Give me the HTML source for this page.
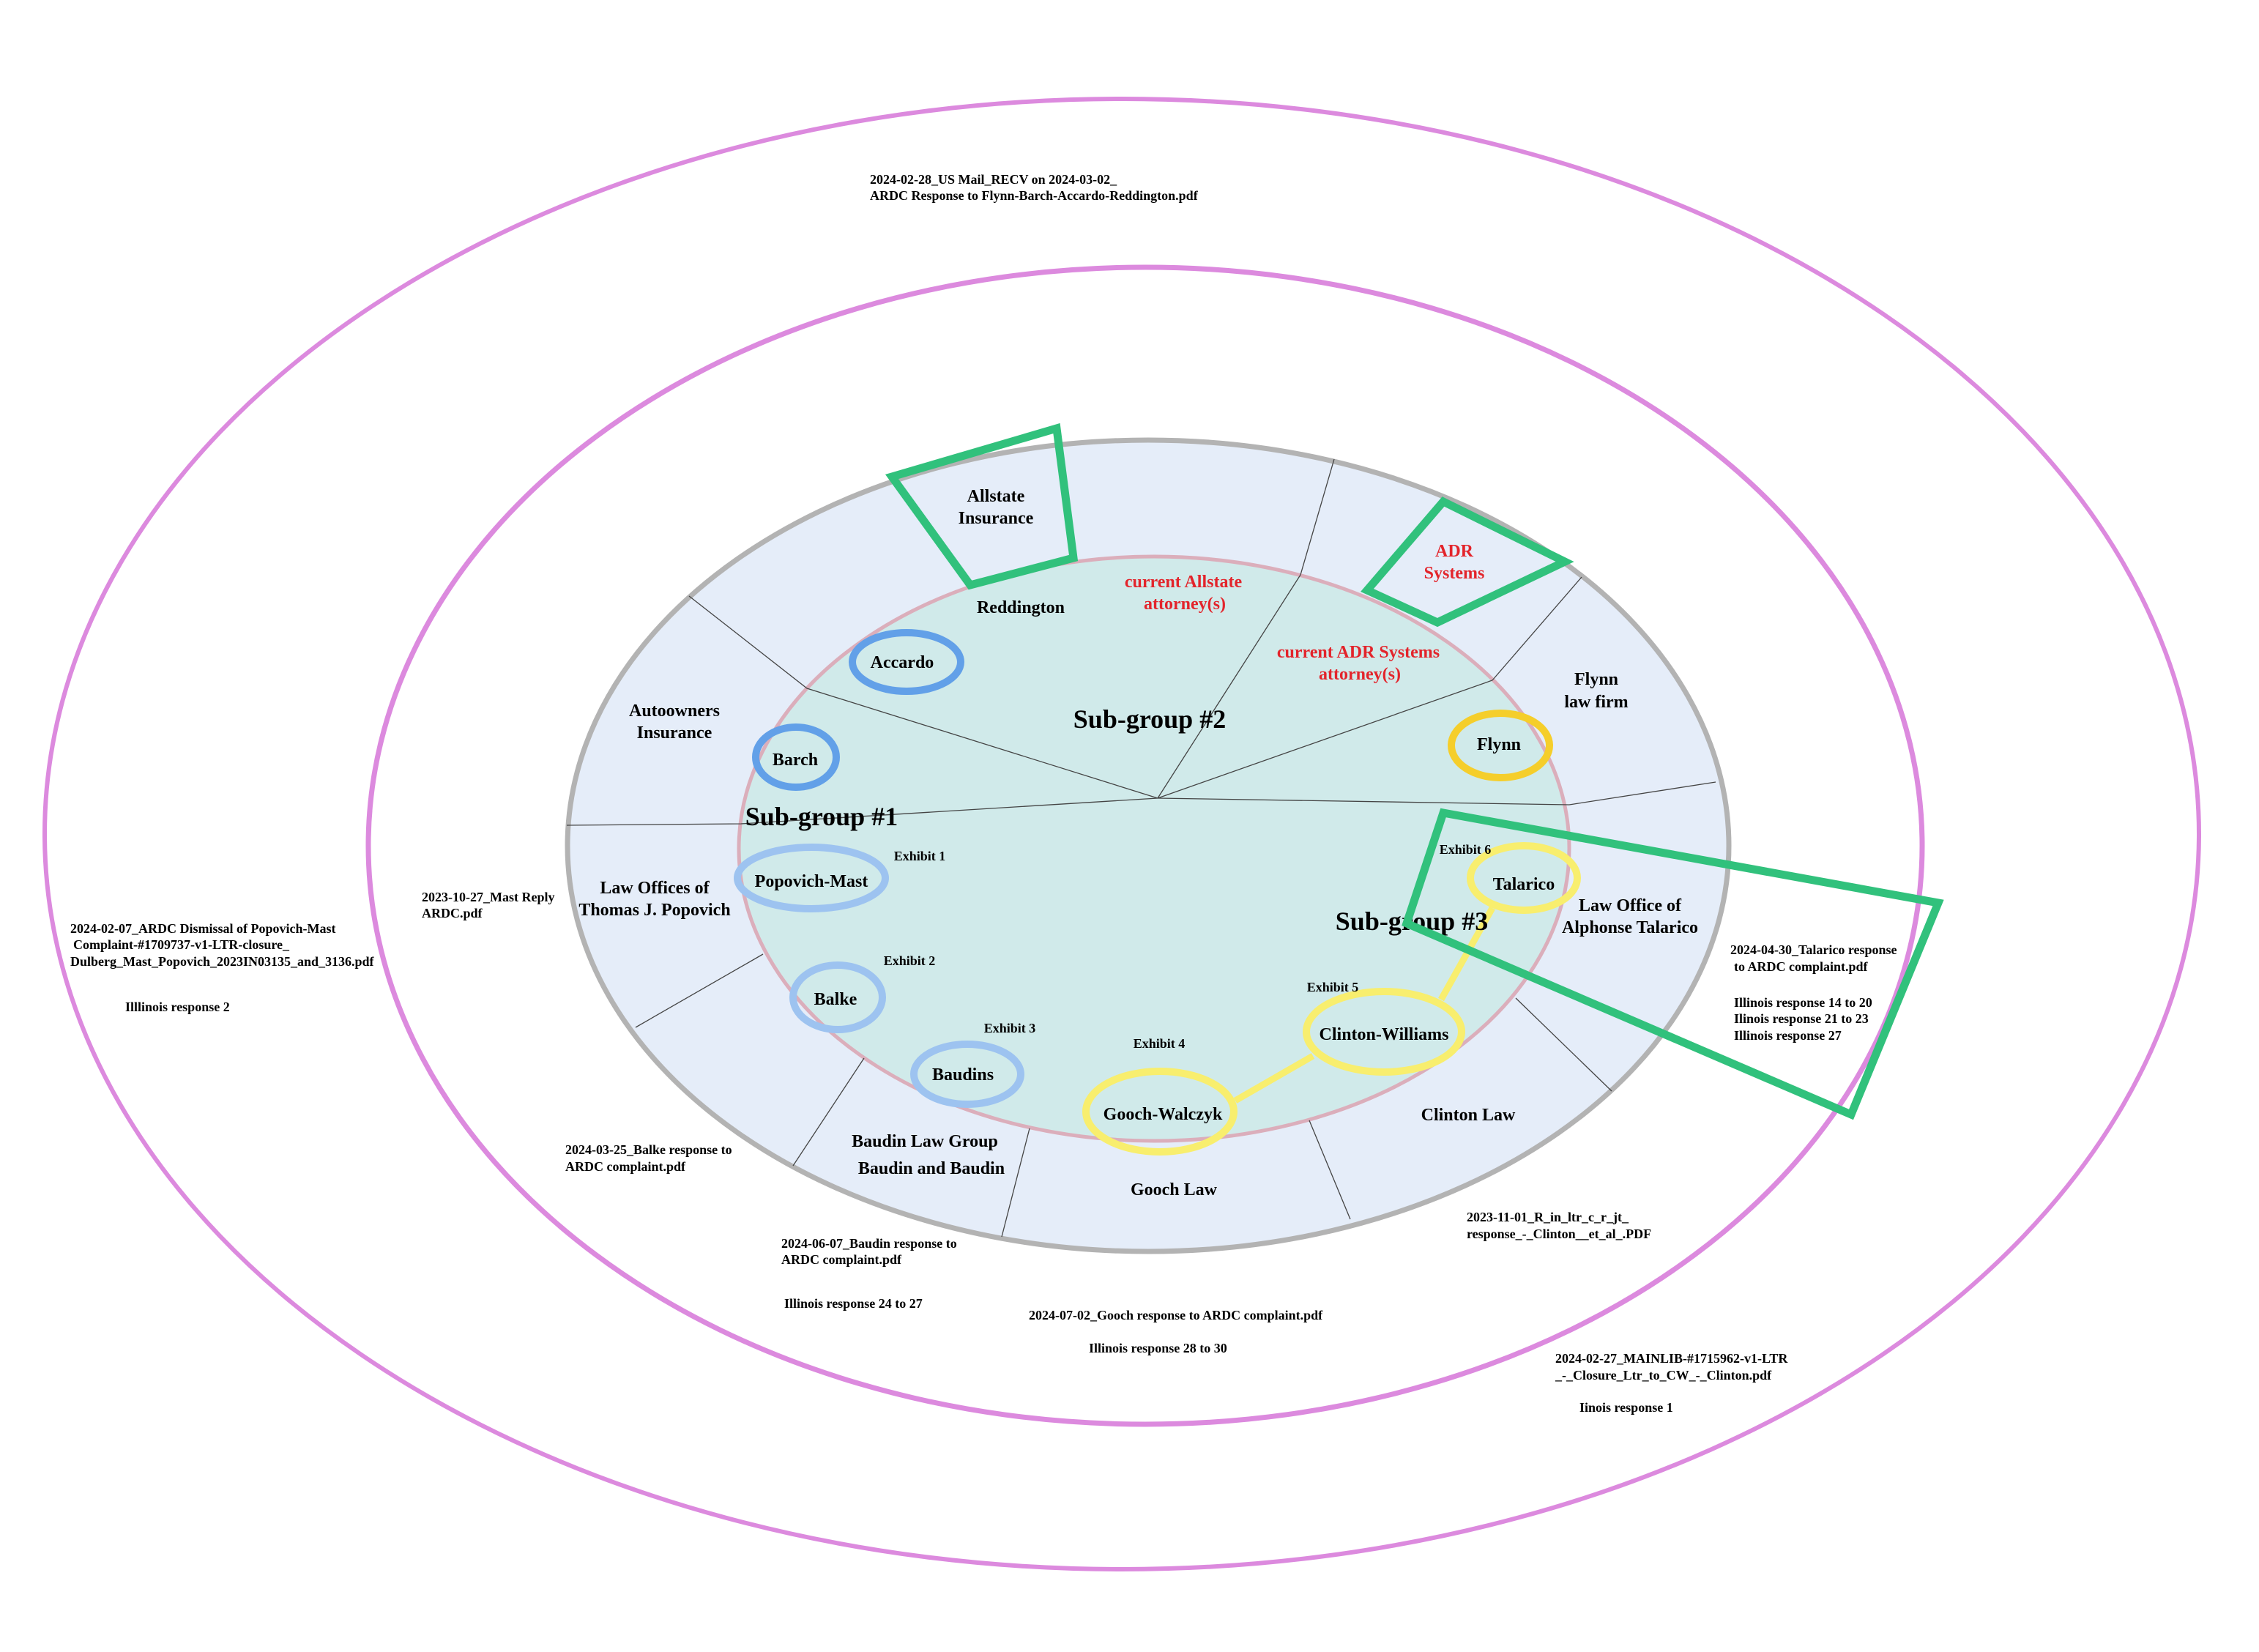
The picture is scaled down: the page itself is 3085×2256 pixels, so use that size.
<!DOCTYPE html>
<html>
<head>
<meta charset="utf-8">
<style>
  html, body { margin:0; padding:0; background:#ffffff; }
  svg { display:block; }
  text { font-family: "Liberation Serif", "DejaVu Serif", serif; font-weight: bold; fill:#000; }
  .n24 { font-size:24px; text-anchor:middle; }
  .r24 { font-size:24px; text-anchor:middle; fill:#e3242b; }
  .s36 { font-size:36px; text-anchor:middle; }
  .e18 { font-size:18px; text-anchor:middle; }
  .f18 { font-size:18px; }
</style>
</head>
<body>
<svg width="3085" height="2256" viewBox="0 0 3085 2256" xmlns="http://www.w3.org/2000/svg">
  <rect x="0" y="0" width="3085" height="2256" fill="#ffffff"/>

  <!-- outer purple ellipses -->
  <ellipse cx="1532" cy="1139" rx="1471" ry="1004" fill="none" stroke="#dc8ade" stroke-width="6"/>
  <ellipse cx="1564" cy="1155" rx="1061" ry="790" fill="none" stroke="#dc8ade" stroke-width="7"/>

  <!-- gray ring -->
  <ellipse cx="1568" cy="1155" rx="793" ry="554" fill="#e5edf9" stroke="#b3b3b3" stroke-width="7"/>
  <!-- inner pink -->
  <ellipse cx="1576" cy="1159" rx="567" ry="399" fill="#d0eaea" stroke="#dbaebb" stroke-width="5"/>

  <!-- divider lines -->
  <g fill="none" stroke="#444" stroke-width="1.3">
    <polyline points="1581,1090 1102,940 941,814"/>
    <polyline points="1581,1090 1012,1125 774,1127"/>
    <polyline points="1581,1090 1776,785 1822,627"/>
    <polyline points="1581,1090 2038,929 2160,788"/>
    <polyline points="1581,1090 2143,1099 2343,1068"/>
    <line x1="1042" y1="1303" x2="868" y2="1403"/>
    <line x1="1180" y1="1445" x2="1083" y2="1592"/>
    <line x1="1406" y1="1541" x2="1368" y2="1689"/>
    <line x1="1788" y1="1530" x2="1844" y2="1665"/>
    <line x1="2070" y1="1363" x2="2201" y2="1490"/>
  </g>

  <!-- yellow connectors -->
  <g stroke="#f8ee6e" stroke-width="9" fill="none">
    <line x1="1687" y1="1503" x2="1793" y2="1442"/>
    <line x1="1968" y1="1365" x2="2038" y2="1240"/>
  </g>

  <!-- node ellipses -->
  <g fill="none" stroke-width="10">
    <ellipse cx="1238" cy="904" rx="74" ry="40" stroke="#62a0e8"/>
    <ellipse cx="1087" cy="1034" rx="55" ry="41" stroke="#62a0e8"/>
    <ellipse cx="1108" cy="1199" rx="101" ry="42" stroke="#9dc3f0"/>
    <ellipse cx="1144" cy="1362" rx="61" ry="44" stroke="#9dc3f0"/>
    <ellipse cx="1321" cy="1467" rx="73" ry="41" stroke="#9dc3f0"/>
    <ellipse cx="1584" cy="1518" rx="101" ry="55" stroke="#f8ee6e"/>
    <ellipse cx="1890" cy="1409" rx="106" ry="55" stroke="#f8ee6e"/>
    <ellipse cx="2081" cy="1199" rx="73" ry="44" stroke="#f8ee6e"/>
    <ellipse cx="2049" cy="1018" rx="67" ry="44" stroke="#f5ce2b"/>
  </g>

  <!-- ring labels -->
  <text class="n24" x="1360" y="685">Allstate</text>
  <text class="n24" x="1360" y="715">Insurance</text>
  <text class="n24" x="1394" y="837">Reddington</text>
  <text class="n24" x="921" y="978">Autoowners</text>
  <text class="n24" x="921" y="1008">Insurance</text>
  <text class="n24" x="894" y="1220">Law Offices of</text>
  <text class="n24" x="894" y="1250">Thomas J. Popovich</text>
  <text class="n24" x="2180" y="935">Flynn</text>
  <text class="n24" x="2180" y="966">law firm</text>
  <text class="n24" x="2226" y="1244">Law Office of</text>
  <text class="n24" x="2226" y="1274">Alphonse Talarico</text>
  <text class="n24" x="1263" y="1566">Baudin Law Group</text>
  <text class="n24" x="1272" y="1603">Baudin and Baudin</text>
  <text class="n24" x="1603" y="1632">Gooch Law</text>
  <text class="n24" x="2005" y="1530">Clinton Law</text>

  <!-- red labels -->
  <text class="r24" x="1986" y="760">ADR</text>
  <text class="r24" x="1986" y="790">Systems</text>
  <text class="r24" x="1616" y="802">current Allstate</text>
  <text class="r24" x="1618" y="832">attorney(s)</text>
  <text class="r24" x="1855" y="898">current ADR Systems</text>
  <text class="r24" x="1857" y="928">attorney(s)</text>

  <!-- node labels -->
  <text class="n24" x="1232" y="912">Accardo</text>
  <text class="n24" x="1086" y="1045">Barch</text>
  <text class="n24" x="1108" y="1211">Popovich-Mast</text>
  <text class="n24" x="1141" y="1372">Balke</text>
  <text class="n24" x="1315" y="1475">Baudins</text>
  <text class="n24" x="1588" y="1529">Gooch-Walczyk</text>
  <text class="n24" x="1890" y="1420">Clinton-Williams</text>
  <text class="n24" x="2081" y="1215">Talarico</text>
  <text class="n24" x="2047" y="1024">Flynn</text>

  <!-- exhibit labels -->
  <text class="e18" x="1256" y="1175">Exhibit 1</text>
  <text class="e18" x="1242" y="1318">Exhibit 2</text>
  <text class="e18" x="1379" y="1410">Exhibit 3</text>
  <text class="e18" x="1583" y="1431">Exhibit 4</text>
  <text class="e18" x="1820" y="1354">Exhibit 5</text>
  <text class="e18" x="2001" y="1166">Exhibit 6</text>

  <!-- sub-group labels -->
  <text class="s36" x="1122" y="1127">Sub-group #1</text>
  <text class="s36" x="1570" y="994">Sub-group #2</text>
  <text class="s36" x="1928" y="1270">Sub-group #3</text>

  <!-- green highlight boxes -->
  <g fill="none" stroke="#31c17c" stroke-width="11" stroke-linejoin="miter">
    <polygon points="1218,651 1443,585 1466,762 1325,799"/>
    <polygon points="1971,685 2137,767 1963,850 1867,806"/>
    <polygon points="1971,1110 2647,1233 2528,1522 1921,1261"/>
  </g>

  <!-- file labels -->
  <text class="f18" x="1188" y="251">2024-02-28_US Mail_RECV on 2024-03-02_</text>
  <text class="f18" x="1188" y="273">ARDC Response to Flynn-Barch-Accardo-Reddington.pdf</text>

  <text class="f18" x="96" y="1274">2024-02-07_ARDC Dismissal of Popovich-Mast</text>
  <text class="f18" x="100" y="1296">Complaint-#1709737-v1-LTR-closure_</text>
  <text class="f18" x="96" y="1319">Dulberg_Mast_Popovich_2023IN03135_and_3136.pdf</text>
  <text class="f18" x="171" y="1381">Illlinois response 2</text>

  <text class="f18" x="576" y="1231">2023-10-27_Mast Reply</text>
  <text class="f18" x="576" y="1253">ARDC.pdf</text>

  <text class="f18" x="772" y="1576">2024-03-25_Balke response to</text>
  <text class="f18" x="772" y="1599">ARDC complaint.pdf</text>

  <text class="f18" x="1067" y="1704">2024-06-07_Baudin response to</text>
  <text class="f18" x="1067" y="1726">ARDC complaint.pdf</text>
  <text class="f18" x="1071" y="1786">Illinois response 24 to 27</text>

  <text class="f18" x="1405" y="1802">2024-07-02_Gooch response to ARDC complaint.pdf</text>
  <text class="f18" x="1487" y="1847">Illinois response 28 to 30</text>

  <text class="f18" x="2003" y="1668">2023-11-01_R_in_ltr_c_r_jt_</text>
  <text class="f18" x="2003" y="1691">response_-_Clinton__et_al_.PDF</text>

  <text class="f18" x="2124" y="1861">2024-02-27_MAINLIB-#1715962-v1-LTR</text>
  <text class="f18" x="2124" y="1884">_-_Closure_Ltr_to_CW_-_Clinton.pdf</text>
  <text class="f18" x="2157" y="1928">Iinois response 1</text>

  <text class="f18" x="2363" y="1303">2024-04-30_Talarico response</text>
  <text class="f18" x="2368" y="1326">to ARDC complaint.pdf</text>
  <text class="f18" x="2368" y="1375">Illinois response 14 to 20</text>
  <text class="f18" x="2368" y="1397">Ilinois response 21 to 23</text>
  <text class="f18" x="2368" y="1420">Illinois response 27</text>
</svg>
</body>
</html>
